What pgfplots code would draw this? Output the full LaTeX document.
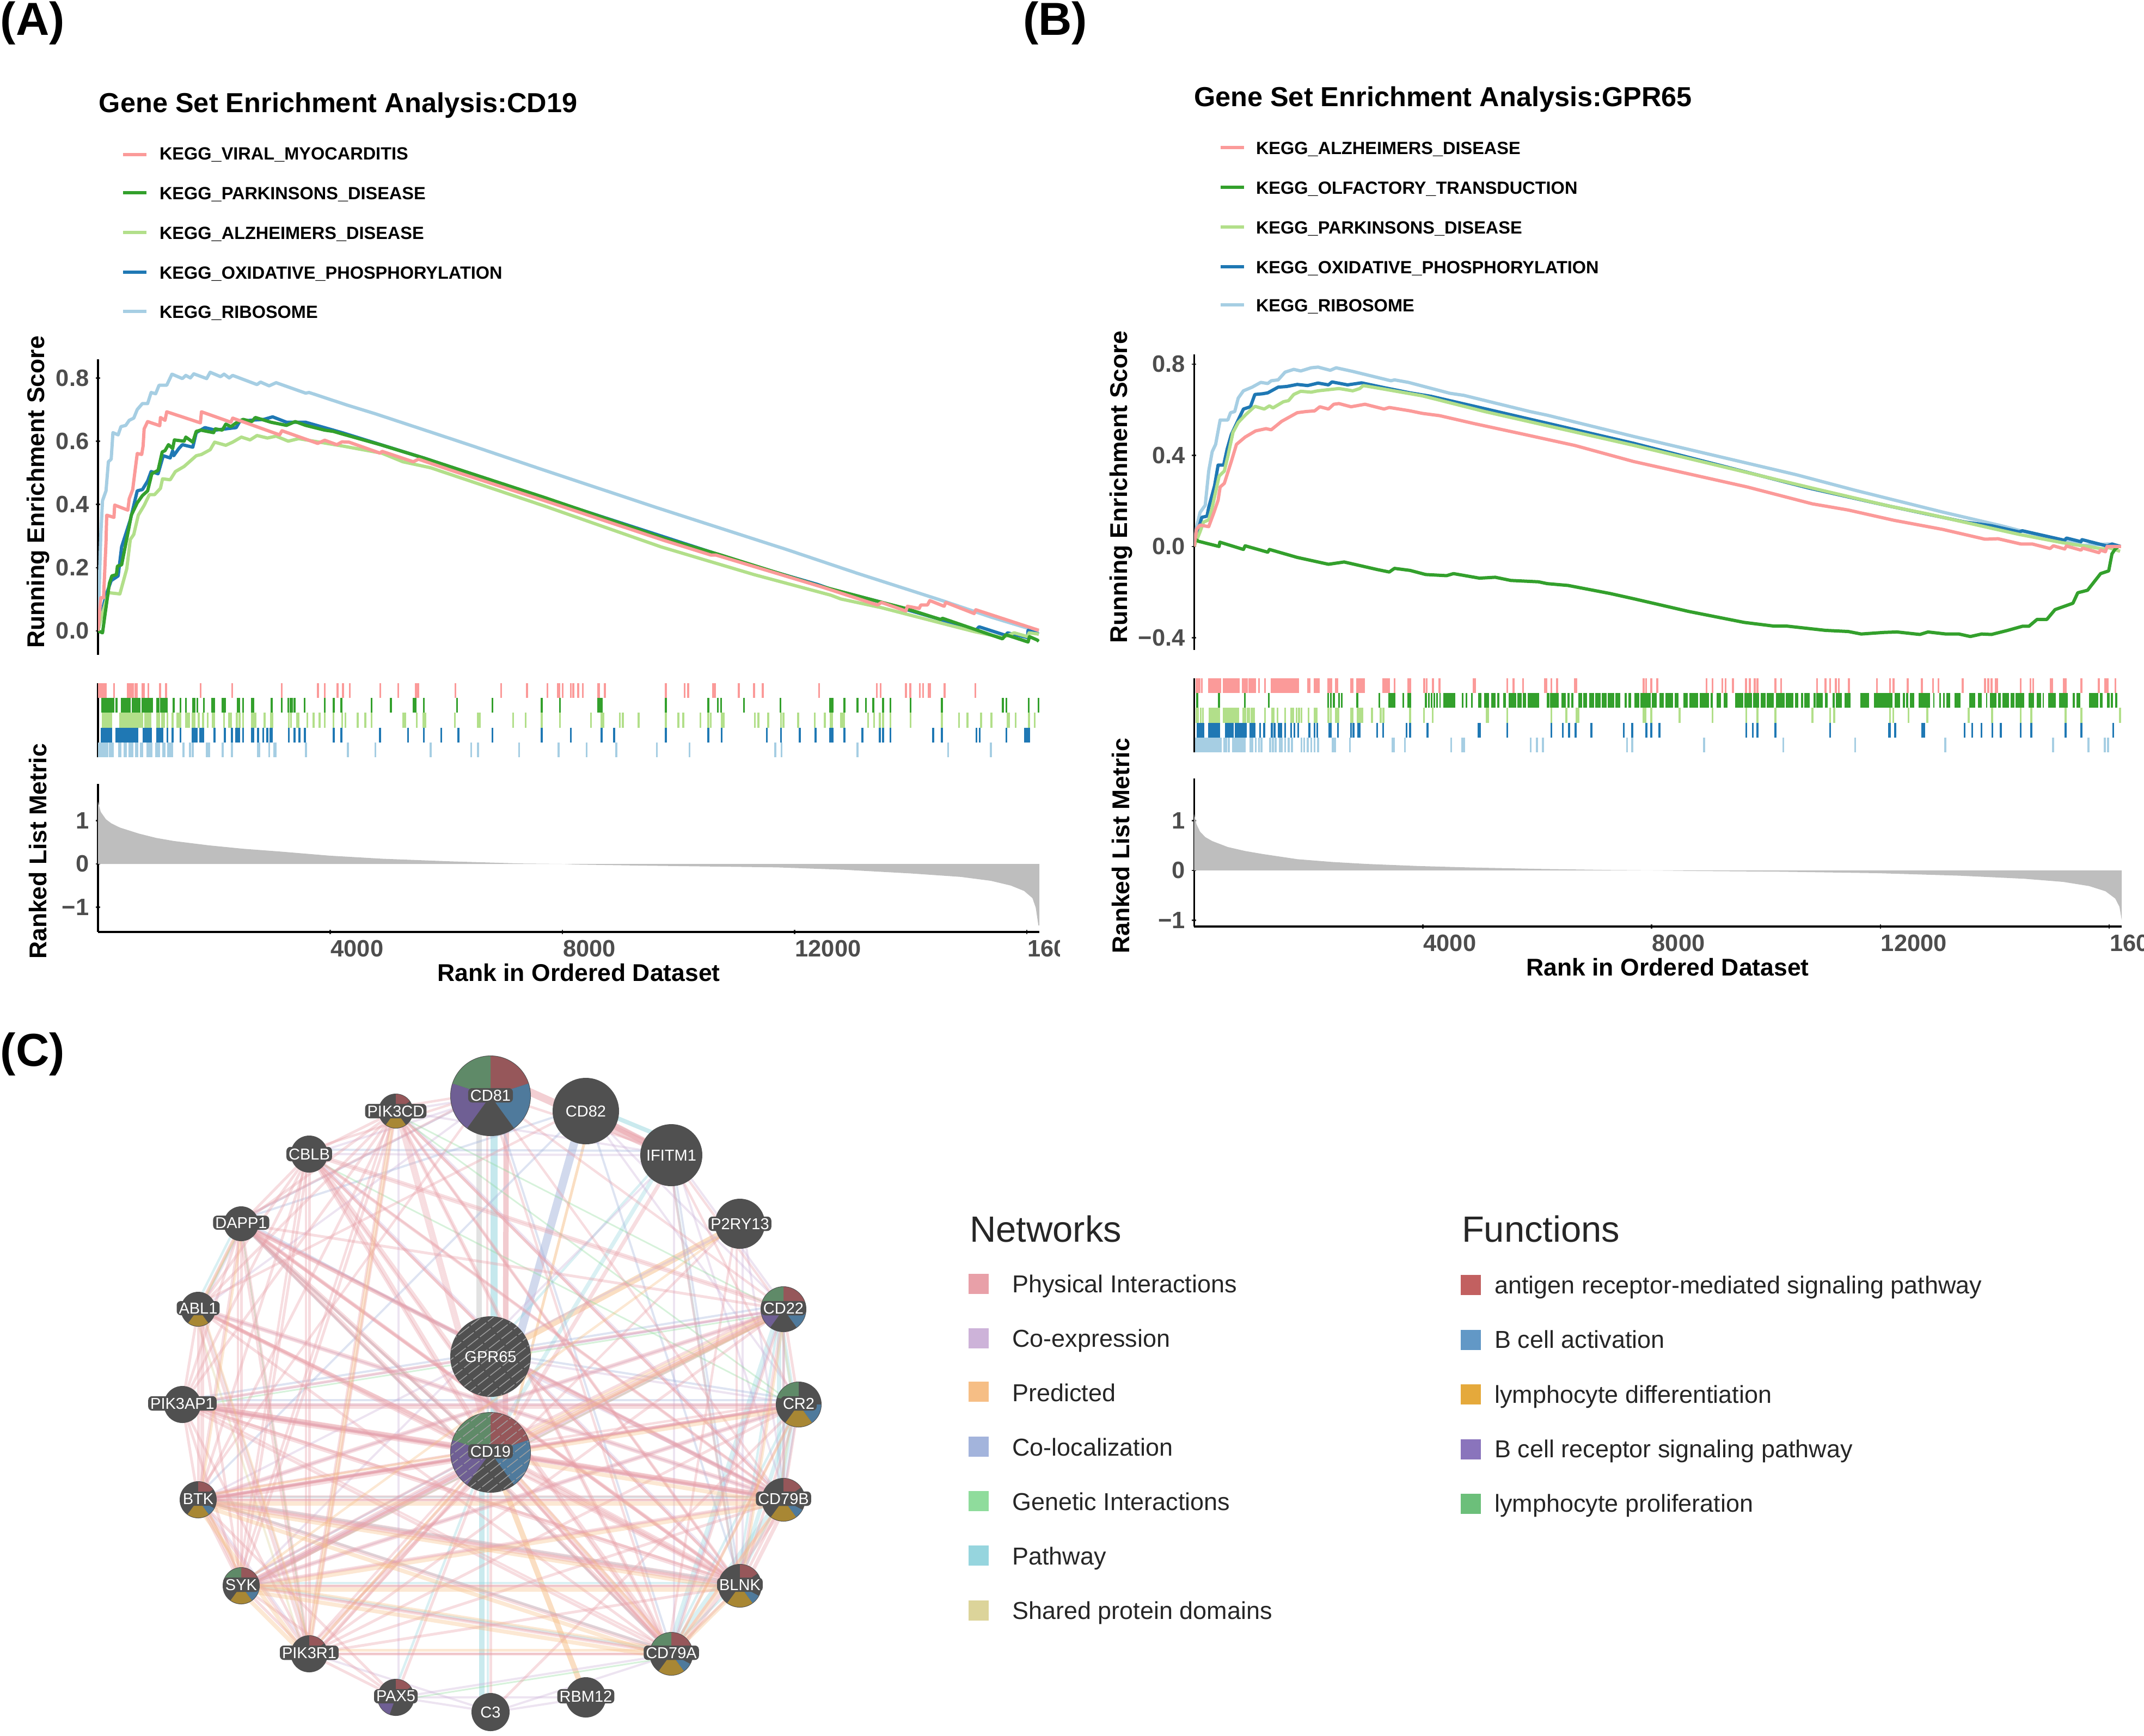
\documentclass[border=0pt]{standalone}
\usepackage{fontspec}
\setmainfont{Liberation Sans}
\usepackage{pgfplots}
\pgfplotsset{compat=1.18}

\definecolor{cpink}{HTML}{FB9A99}
\definecolor{cdgreen}{HTML}{33A02C}
\definecolor{clgreen}{HTML}{B2DF8A}
\definecolor{cblue}{HTML}{1F78B4}
\definecolor{clblue}{HTML}{A6CEE3}
\definecolor{ctick}{HTML}{4D4D4D}
\definecolor{cmetric}{HTML}{BEBEBE}
\definecolor{cnode}{HTML}{505050}
\definecolor{fred}{HTML}{96575A}
\definecolor{fblue}{HTML}{4F7A9C}
\definecolor{fgold}{HTML}{A88734}
\definecolor{fpurple}{HTML}{6F5F94}
\definecolor{fgreen}{HTML}{5F8A68}
\definecolor{nphys}{HTML}{E8A0A8}
\definecolor{ncoexp}{HTML}{CDB3D9}
\definecolor{npred}{HTML}{F6BE85}
\definecolor{ncoloc}{HTML}{A3B4DC}
\definecolor{ngenet}{HTML}{8FDC9C}
\definecolor{npath}{HTML}{96D5DE}
\definecolor{nshare}{HTML}{DCD49A}
\definecolor{lfred}{HTML}{C26060}
\definecolor{lfblue}{HTML}{6298C6}
\definecolor{lfgold}{HTML}{E5A93B}
\definecolor{lfpurple}{HTML}{8A74BC}
\definecolor{lfgreen}{HTML}{6CBF7A}

\newcommand\tickfont{\fontsize{8.7}{10}\selectfont\bfseries}
\newcommand\labfont{\fontsize{8.9}{11}\selectfont\bfseries}

\pgfplotsset{
  gsea/.style={scale only axis, axis line style={line width=0.65pt},
    every non boxed x axis/.append style={x axis line style=-},
    every non boxed y axis/.append style={y axis line style=-},
    tick style={color=black!80,line width=0.5pt},
    tick align=outside, major tick length=1.6pt,
    scaled ticks=false,
    tick label style={font=\tickfont,text=ctick},
    y tick label style={xshift=1pt}},
  rankx/.style={xtick={4000,8000,12000,16000},xticklabels={4000,8000,12000,16000},
    x tick label style={anchor=north west,inner xsep=0pt,yshift=1.4pt}},
  esline/.style={no marks,line width=1.2pt,line join=round},
  rugmark/.style={only marks,mark=|,mark size=2.72pt,mark options={line width=0.7pt}},
  pagepx/.style={scale only axis,at={(0pt,0pt)},anchor=south west,width=787.6pt,height=637.6pt,
    xmin=0,xmax=3938,ymin=0,ymax=3188,y dir=reverse,hide axis,clip=false},
}

% rug of single ticks: style, row, ranks
\newcommand\rug[3]{\def\rc{}%
  \pgfplotsforeachungrouped\r in {#3}{\edef\rc{\rc(\r,#2)}}%
  \edef\tmp{\noexpand\addplot[rugmark,#1] coordinates {\rc};}\tmp}
% rug of solid stretches: colour, row, from:to ranks
\def\blkadd#1:#2\relax{\edef\rc{\rc(#1,\rowy)(#2,\rowy)(#2,nan)}}
\newcommand\rugblock[3]{\def\rc{}\def\rowy{#2}%
  \pgfplotsforeachungrouped\r in {#3}{\expandafter\blkadd\r\relax}%
  \edef\tmp{\noexpand\addplot[color=#1,no marks,line width=5.44pt,unbounded coords=jump] coordinates {\rc};}\tmp}

% network nodes, in picture pixels
\newcommand\N[3]{\expandafter\def\csname nd#1\endcsname{(#2,#3)}}
\N{a}{901}{2492}\N{b}{901}{2668}\N{c}{901}{2013}\N{d}{1076}{2041}
\N{e}{1233}{2122}\N{f}{1359}{2248}\N{g}{1439}{2405}\N{h}{1467}{2580}
\N{i}{1439}{2755}\N{j}{1359}{2913}\N{k}{1233}{3038}\N{l}{1076}{3118}
\N{m}{901}{3145}\N{n}{727}{3118}\N{o}{568}{3038}\N{p}{443}{2913}
\N{q}{364}{2755}\N{r}{335}{2580}\N{s}{364}{2405}\N{t}{443}{2248}
\N{u}{568}{2120}\N{v}{727}{2041}
\def\edgepair#1#2\relax#3#4#5{\edef\tmp{\noexpand\addplot[no marks,color=#3,opacity=0.36,line width=#4,#5] coordinates {\csname nd#1\endcsname\csname nd#2\endcsname};}\tmp}
\newcommand\edges[4][]{\pgfplotsforeachungrouped\e in {#4}{\expandafter\edgepair\e\relax{#2}{#3}{#1}}}

% pie pieces as plot marks, angles in pgf convention
\newcommand\declwedge[3]{\pgfdeclareplotmark{#1}{%
  \pgfpathmoveto{\pgfpointorigin}\pgfpathlineto{\pgfpointpolar{#2}{\pgfplotmarksize}}%
  \pgfpatharc{#2}{#3}{\pgfplotmarksize}\pgfpathclose\pgfusepathqfill}}
\declwedge{wred}{90}{18}\declwedge{wblue}{18}{-54}\declwedge{wgold}{-54}{-126}
\declwedge{wpurple}{-126}{-198}\declwedge{wgreen}{162}{90}
\declwedge{wreds}{90}{35}\declwedge{wbluem}{0}{-54}\declwedge{wblues}{-28}{-54}
\declwedge{wpurples}{-110}{-170}
\pgfdeclareplotmark{hatch}{%
  \begin{pgfscope}%
  \pgfpathcircle{\pgfpointorigin}{\pgfplotmarksize}\pgfusepathqclip
  \pgftransformrotate{38}\pgfsetlinewidth{0.3pt}\pgfsetstrokecolor{black!38}%
  \pgfsetdash{{5pt}{0.8pt}}{0pt}%
  \foreach \k in {-5,...,5}{\pgfpathmoveto{\pgfpoint{-16pt}{\k*2.7pt}}%
    \pgfpathlineto{\pgfpoint{16pt}{\k*2.7pt}}\pgfusepathqstroke}%
  \end{pgfscope}}
\newcommand\pie[4]{\addplot[only marks,mark=#1,mark size=#2pt,color=#3,mark options={fill=#3,draw=none}] coordinates {#4};}
\newcommand\netlab[3]{\node[font=\fontsize{5.8}{7}\selectfont,text=white,fill=cnode,rounded corners=1.5pt,inner xsep=0.8pt,inner ysep=0.6pt] at (axis cs:#1,#2) {#3};}
\newcommand\netlabp[3]{\node[font=\fontsize{5.8}{7}\selectfont,text=white] at (axis cs:#1,#2) {#3};}

\begin{document}
\begin{tikzpicture}
\useasboundingbox (0pt,0pt) rectangle (787.6pt,637.6pt);

\begin{scope}
\clip (0pt,0pt) rectangle (389.2pt,637.6pt);
% ---------- A running score
\begin{axis}[gsea,at={(36pt,397pt)},anchor=south west,width=345.8pt,height=108.6pt,
  axis x line=none,axis y line=left,xmin=0,xmax=16215,ymin=-0.0757,ymax=0.859,
  ytick={0,0.2,0.4,0.6,0.8},yticklabels={0.0,0.2,0.4,0.6,0.8}]
\addplot[esline,clblue] coordinates {(0,0)(48,.305)(78,.412)(138,.443)(179,.535)(227,.543)(257,.627)(347,.620)(395,.646)(478,.650)(538,.666)(616,.673)(676,.700)(765,.719)(855,.719)(915,.754)(993,.750)(1052,.777)(1184,.777)(1274,.812)(1453,.798)(1513,.808)(1591,.800)(1650,.813)(1872,.798)(1932,.818)(2111,.804)(2171,.812)(2260,.800)(2320,.808)(2739,.779)(2799,.787)(2948,.775)(3068,.785)(3576,.752)(3636,.754)(4294,.714)(4772,.687)(5729,.629)(6387,.589)(7690,.508)(9639,.389)(11648,.270)(11820,.260)(13083,.182)(14575,.094)(15379,.044)(16205,-.002)};
\addplot[esline,cblue] coordinates {(0,0)(48,.044)(138,.113)(227,.159)(347,.174)(407,.266)(556,.351)(676,.443)(765,.447)(855,.474)(915,.504)(1035,.497)(1124,.554)(1244,.547)(1286,.570)(1304,.554)(1393,.577)(1453,.589)(1633,.581)(1692,.627)(1842,.643)(2021,.635)(2201,.639)(2380,.643)(2440,.662)(2619,.666)(2858,.669)(3008,.677)(3247,.660)(3576,.660)(4204,.627)(5609,.547)(7690,.420)(11303,.205)(12394,.147)(12624,.132)(13427,.094)(14518,.036)(15120,.002)(15178,.013)(15637,-.014)(15666,-.006)(16011,-.021)(16021,.002)(16205,-.010)};
\addplot[esline,clgreen] coordinates {(0,0)(48,.036)(179,.121)(377,.117)(496,.197)(556,.289)(616,.305)(694,.366)(795,.397)(885,.431)(975,.431)(1076,.451)(1112,.481)(1244,.478)(1333,.504)(1483,.520)(1692,.554)(1782,.558)(1932,.573)(2009,.597)(2201,.587)(2320,.597)(2470,.613)(2619,.604)(2739,.618)(2918,.610)(3068,.616)(3277,.600)(3456,.608)(3815,.597)(4204,.585)(4892,.562)(5250,.535)(5729,.516)(7690,.395)(9696,.266)(11303,.178)(12624,.113)(12796,.101)(13485,.074)(14518,.025)(15092,-.002)(15580,-.021)(15781,-.006)(16011,-.018)(16039,-.006)(16205,-.010)};
\addplot[esline,cdgreen] coordinates {(0,0)(78,-.006)(120,.051)(197,.151)(239,.174)(317,.178)(335,.205)(407,.209)(526,.320)(574,.366)(676,.405)(765,.428)(855,.443)(927,.497)(1035,.508)(1106,.566)(1154,.570)(1214,.589)(1286,.577)(1316,.604)(1483,.600)(1513,.613)(1633,.597)(1692,.631)(1770,.635)(1991,.627)(2021,.639)(2141,.635)(2201,.654)(2290,.646)(2380,.658)(2500,.669)(2649,.662)(2709,.675)(2978,.660)(3247,.650)(3397,.662)(3576,.650)(3905,.635)(4054,.631)(4204,.623)(4862,.589)(5609,.547)(7690,.422)(9753,.293)(10729,.240)(12394,.144)(13427,.094)(13915,.071)(14518,.036)(14546,.040)(15580,-.025)(15637,-.012)(16021,-.035)(16045,-.018)(16182,-.029)(16205,-.033)};
\addplot[esline,cpink] coordinates {(0,0)(48,.105)(96,.105)(138,.282)(150,.366)(275,.359)(287,.398)(514,.382)(538,.418)(598,.447)(616,.474)(658,.535)(676,.561)(753,.558)(777,.585)(795,.639)(855,.662)(1064,.649)(1076,.675)(1154,.666)(1184,.693)(1764,.658)(1782,.693)(2290,.660)(2320,.673)(3128,.620)(3169,.633)(3785,.593)(3905,.603)(4114,.589)(4204,.598)(4324,.597)(4862,.562)(4892,.568)(5430,.535)(5520,.543)(6147,.504)(7690,.412)(9753,.286)(10557,.240)(10643,.240)(12451,.140)(13427,.082)(13496,.090)(13915,.063)(13944,.078)(14145,.071)(14173,.082)(14288,.082)(14328,.096)(14575,.078)(14604,.090)(15092,.055)(15120,.067)(16205,.002)};
\end{axis}
% ---------- A rug
\begin{axis}[gsea,at={(36pt,359.4pt)},anchor=south west,width=345.8pt,height=27.2pt,
  axis x line=none,axis y line=left,xmin=0,xmax=16215,ymin=0,ymax=5,ytick=\empty]
\rug{color=cpink}{4.5}{18,36,60,84,108,132,275,514,538,574,598,646,670,765,789,867,1070,1172,1770,2314,3163,3791,3905,4126,4222,4336,4862,5173,5472,5496,5514,6159,6943,7391,7744,7922,7945,8003,8146,8186,8272,8353,8617,8634,8732,9782,10104,10167,10597,10626,11039,11303,11452,12423,13416,13479,13915,13990,14156,14214,14305,14328,14581,15115}
\rug{color=cdgreen}{3.5}{72,96,120,144,167,191,215,239,269,317,407,431,454,478,502,526,550,598,622,646,670,694,718,765,789,825,849,873,897,927,1017,1041,1088,1112,1136,1160,1184,1304,1423,1513,1639,1662,1710,1824,1967,1997,2147,2183,2404,2428,2500,2649,2679,2990,3163,3277,3313,3343,3385,3558,3905,4060,4192,4712,5047,5436,5466,5615,6183,6793,7642,7957,8617,8646,8674,9782,10511,10678,10735,11125,11757,12612,12635,12658,12859,13083,13226,13353,13525,13651,13995,14535,15585,15648,16033,16199}
\rug{color=clgreen}{2.5}{84,108,132,167,203,227,383,413,443,472,502,532,562,592,622,652,682,712,742,765,813,843,873,903,1017,1052,1100,1136,1196,1286,1363,1387,1423,1513,1543,1573,1633,1662,1734,1812,1890,1973,1997,2171,2260,2290,2392,2440,2500,2649,2679,2709,2870,2978,3008,3289,3325,3427,3456,3606,3714,3815,3905,4054,4204,4264,4473,4605,4712,5262,5292,5490,5609,5639,6147,6542,6572,7152,7367,7642,7957,8491,8674,8703,8990,9042,9311,9782,9995,10081,10379,10511,10557,10741,10775,11315,11378,11544,11763,11808,12061,12348,12520,12623,12646,12796,12824,12853,13266,13369,13467,13525,13651,13995,14535,14833,14977,15212,15390,15666,15694,15809,16039,16136}
\rug{color=cblue}{1.5}{60,84,108,132,155,179,203,227,317,341,365,389,413,437,460,484,508,532,556,580,604,628,652,676,789,813,837,861,885,909,1017,1041,1064,1088,1112,1196,1286,1423,1633,1656,1680,1704,1764,1788,1812,2009,2183,2308,2380,2404,2428,2500,2649,2679,2757,2846,2918,2966,2996,3289,3385,3468,3564,4060,4192,4856,5340,5615,5914,6207,6793,7642,8146,8674,8892,9782,10511,10741,11521,11763,12090,12359,12612,12635,12658,12859,13169,13467,13525,13651,14386,14535,15132,15189,15648,15970,15993,16016,16039}
\rug{color=clblue}{0.5}{12,36,60,84,114,138,161,203,227,251,365,389,454,478,538,562,592,652,676,742,765,849,873,897,921,1005,1029,1052,1124,1148,1208,1232,1256,1280,1471,1585,1633,1872,1896,1920,2147,2308,2757,2781,2948,3038,3062,3582,4306,4778,5729,6428,6548,7254,7934,8416,8927,9627,10190,11665,11774,13083,14644,15379}
\end{axis}
% ---------- A ranked metric
\begin{axis}[gsea,rankx,at={(36pt,295.2pt)},anchor=south west,width=345.8pt,height=54.4pt,
  axis lines=left,xmin=0,xmax=16215,ymin=-1.572,ymax=1.849,
  ytick={-1,0,1},yticklabels={−1,0,1}]
\addplot[draw=none,fill=cmetric] coordinates {(0,0)(0,1.44)(48,1.20)(138,1.03)(227,.94)(377,.84)(706,.70)(1005,.60)(1304,.53)(1902,.43)(2500,.35)(3098,.29)(3995,.19)(4892,.12)(6088,.058)(7284,.01)(7990,0)(8261,-.015)(9409,-.04)(10557,-.06)(11705,-.08)(12853,-.135)(14001,-.22)(14862,-.30)(15379,-.39)(15723,-.50)(15953,-.625)(16096,-.79)(16153,-1.01)(16199,-1.42)(16215,-1.42)(16215,0)} -- cycle;
\end{axis}
\end{scope}

% ---------- B running score
\begin{axis}[gsea,at={(438.66pt,398.8pt)},anchor=south west,width=340.74pt,height=108.7pt,
  axis x line=none,axis y line=left,xmin=0,xmax=16218,ymin=-.454,ymax=.844,
  ytick={-0.4,0,0.4,0.8},yticklabels={−0.4,0.0,0.4,0.8}]
\addplot[esline,clblue] coordinates {(0,0)(43,.085)(103,.149)(194,.181)(255,.331)(316,.416)(376,.448)(455,.555)(589,.555)(637,.587)(710,.592)(771,.651)(862,.683)(1014,.699)(1166,.720)(1287,.715)(1348,.727)(1469,.731)(1591,.765)(1742,.777)(1864,.770)(2046,.784)(2167,.787)(2380,.773)(2483,.784)(2774,.768)(3442,.727)(3503,.731)(3746,.720)(4474,.672)(4717,.663)(5871,.592)(6174,.576)(7680,.483)(10526,.315)(11550,.247)(13087,.151)(14112,.091)(14453,.069)(15535,.005)(15991,.011)(16190,0)};
\addplot[esline,cblue] coordinates {(0,0)(73,.075)(134,.128)(225,.133)(255,.171)(358,.267)(419,.357)(516,.357)(577,.427)(650,.491)(771,.555)(862,.603)(984,.613)(1062,.667)(1196,.670)(1287,.674)(1469,.699)(1621,.702)(1803,.711)(1985,.706)(2167,.717)(2349,.709)(2410,.722)(2683,.709)(2926,.718)(3321,.697)(3776,.674)(4140,.659)(5021,.608)(7680,.453)(10753,.256)(12176,.176)(12689,.149)(13486,.107)(13941,.091)(14425,.064)(14482,.069)(15222,.027)(15251,.037)(15507,.021)(15524,.030)(15962,.002)(16048,.011)(16201,0)};
\addplot[esline,clgreen] coordinates {(0,0)(103,.064)(164,.107)(255,.117)(316,.171)(437,.309)(528,.331)(589,.395)(680,.501)(771,.544)(892,.576)(1062,.615)(1226,.603)(1317,.617)(1378,.608)(1560,.635)(1651,.640)(1742,.667)(1864,.681)(2046,.677)(2167,.683)(2349,.688)(2532,.693)(2774,.683)(2896,.693)(2957,.706)(3260,.693)(3989,.661)(5081,.592)(7680,.444)(10810,.256)(12176,.176)(12803,.144)(13941,.080)(14425,.053)(15194,.016)(15906,-.011)(15991,-.005)(16190,-.021)};
\addplot[esline,cdgreen] coordinates {(30,.03)(73,.023)(437,0)(449,.019)(862,-.013)(892,.003)(1287,-.025)(1317,-.013)(1803,-.048)(2349,-.078)(2623,-.068)(3199,-.101)(3412,-.112)(3503,-.096)(3776,-.105)(4049,-.123)(4414,-.128)(4535,-.119)(4990,-.139)(5264,-.135)(5537,-.149)(6022,-.155)(6174,-.163)(6539,-.171)(7267,-.206)(7680,-.229)(8647,-.285)(9615,-.333)(10127,-.349)(10355,-.349)(11038,-.368)(11437,-.373)(11664,-.384)(12063,-.377)(12290,-.375)(12689,-.386)(12831,-.375)(13144,-.384)(13372,-.384)(13571,-.395)(13770,-.384)(13941,-.386)(14226,-.368)(14482,-.350)(14596,-.350)(14738,-.320)(14909,-.320)(15052,-.277)(15365,-.249)(15450,-.203)(15621,-.192)(15849,-.119)(15991,-.107)(16048,-.032)(16105,-.011)(16161,0)};
\addplot[esline,cpink] coordinates {(0,0)(43,.075)(103,.094)(255,.087)(346,.149)(419,.203)(455,.261)(528,.277)(650,.373)(740,.448)(892,.480)(1075,.507)(1257,.517)(1348,.512)(1530,.549)(1803,.587)(1955,.592)(2107,.595)(2198,.613)(2349,.603)(2441,.624)(2532,.627)(2744,.613)(2987,.624)(3321,.603)(3412,.610)(3776,.595)(3989,.584)(4292,.574)(4899,.539)(5749,.493)(6660,.443)(7680,.373)(9672,.261)(10810,.187)(11436,.160)(12233,.115)(13087,.075)(13827,.032)(14055,.034)(14453,.011)(14653,.011)(14966,-.009)(15023,.003)(15222,-.011)(15251,.002)(15507,-.016)(15535,-.007)(15820,-.027)(15848,-.016)(15934,-.023)(15962,0)(16207,0)};
\end{axis}
% ---------- B rug
\begin{axis}[gsea,at={(438.66pt,361.2pt)},anchor=south west,width=340.74pt,height=27.2pt,
  axis x line=none,axis y line=left,xmin=0,xmax=16218,ymin=0,ymax=5,ytick=\empty]
\rug{color=cpink}{4.5}{42,67,91,134,261,285,310,334,358,383,407,431,455,516,540,565,589,613,637,662,686,710,734,759,783,850,874,899,923,965,990,1014,1038,1062,1135,1238,1360,1384,1408,1433,1457,1481,1506,1530,1554,1578,1603,1627,1651,1676,1700,1724,1748,1773,1797,1821,1997,2022,2107,2131,2155,2179,2349,2374,2398,2483,2507,2744,2774,2847,2872,2908,2938,2969,3309,3333,3357,3381,3406,3503,3746,3776,4025,4068,4177,4292,4887,4911,5476,5585,5749,6138,6162,6247,6344,6660,6684,7861,7901,7992,8100,8960,9062,9233,9290,9421,9649,9717,9802,9848,10161,10264,10890,11038,11118,11220,11271,11448,11937,12165,12228,12478,12723,12917,13013,13440,13827,13884,13941,14015,14044,14454,14624,14670,14977,15000,15205,15239,15513,15820,15934,15968,16110}
\rug{color=cdgreen}{3.5}{55,437,886,1305,2343,2392,2441,2532,2580,2853,3236,3412,3442,3473,3503,3655,3746,3776}
\rugblock{cdgreen}{3.5}{4037:4069,4088:4116,4140:4163,4187:4211,4234:4266,4286:4313,4353:4562,4681:4712,4748:4772,4839:4866,4969:5024,5068:5155,5194:5273,5301:5333,5404:5451,5502:5629,5649:5728,5747:5807,5834:6032,6170:6209,6225:6375,6419:6498,6525:6565,6597:6628,6715:6786,6802:6873,6905:6992,7011:7110,7130:7209,7229:7347,7367:7446,7525:7564,7592:7643,7695:7782,7801:7979,7999:8090,8137:8216,8236:8374,8406:8473,8552:8631,8658:8809,8840:9006,9030:9065,9132:9211,9263:9322,9460:9599,9622:9757,9776:9875,9907:9994,10013:10065,10059:10138,10170:10328,10343:10474,10505:10565,10612:10652,10671:10762,10829:10869,10881:10987,11027:11078,11165:11205,11224:11323,11374:11473,11647:11797,11884:12212,12251:12342,12390:12429,12449:12488,12516:12587,12666:12864,12923:12943,13029:13061,13093:13120,13148:13219,13298:13397,13555:13661,13701:13772,13843:13871,13910:14029,14056:14108,14135:14246,14278:14345,14365:14515,14594:14681,14728:14811,14839:14858,14937:15068,15123:15273,15364:15399,15431:15490,15648:15806,15834:15885,15964:16004,16024:16064,16103:16142}
\rug{color=clgreen}{2.5}{42,67,115,152,862,892,941,965,1002,1026,1050,1238,1366,1390,1457,1591,1694,1730,1791,1833,1876,2003,2107,2137,2349,2392,2483,2519,2744,2774,3108,3260,3309,3776,4019,4171,5112,5142,5476,6247,6508,6690,6721,7861,7890,7992,8487,9062,9654,9848,10161,10810,11118,11192,12165,12222,12490,12820,13543,13953,14454,14636,15239,15513,16190}
\rugblock{clgreen}{2.5}{255:455,498:789,2847:2957}
\rug{color=cblue}{1.5}{1153,1226,1360,1408,1481,1518,1591,1694,1755,1821,2016,2107,2155,2513,2744,2787,2866,2896,3199,3303,3716,3776,4080,5476,6247,6447,6557,6672,6945,7510,7662,7907,7992,8134,9654,9768,9848,10161,11118,12256,12729,12763,13469,13606,13765,13958,14106,14454,14636,15239,15513,16071}
\rugblock{cblue}{1.5}{42:176,243:455,540:690,710:923,965:1075,2349:2410,4960:5009,12137:12177}
\rug{color=clblue}{0.5}{528,565,607,983,1014,1075,1135,1178,1330,1378,1427,1500,1536,1591,1651,1712,1876,1925,1985,2046,2107,2167,2726,3685,4493,4687,4717,5883,5992,6101,7570,7662,8914,10303,11556,13133,15017,15638,15922,15980}
\rugblock{clblue}{0.5}{12:480,662:905,2410:2483,3454:3509}
\end{axis}
% ---------- B ranked metric
\begin{axis}[gsea,rankx,at={(438.66pt,297.2pt)},anchor=south west,width=340.74pt,height=54.4pt,
  axis lines=left,xmin=0,xmax=16218,ymin=-1.126,ymax=1.847,
  ytick={-1,0,1},yticklabels={−1,0,1}]
\addplot[draw=none,fill=cmetric] coordinates {(0,0)(0,1.13)(42,.925)(103,.78)(194,.67)(316,.59)(589,.47)(892,.39)(1196,.33)(1803,.226)(2410,.17)(3017,.13)(3928,.088)(4839,.059)(6053,.03)(7267,.008)(7680,.004)(8000,0)(8647,-.01)(10241,-.025)(11949,-.055)(13372,-.105)(14511,-.167)(15194,-.23)(15649,-.314)(15934,-.418)(16105,-.565)(16179,-.73)(16218,-.995)(16218,0)} -- cycle;
\end{axis}

% ---------- legend keys and network, in picture pixels
\begin{axis}[pagepx]
\addplot[no marks,cpink,line width=1.2pt] coordinates {(226,284)(269,284)};
\addplot[no marks,cdgreen,line width=1.2pt] coordinates {(226,354)(269,354)};
\addplot[no marks,clgreen,line width=1.2pt] coordinates {(226,427)(269,427)};
\addplot[no marks,cblue,line width=1.2pt] coordinates {(226,500)(269,500)};
\addplot[no marks,clblue,line width=1.2pt] coordinates {(226,572)(269,572)};
\addplot[no marks,cpink,line width=1.2pt] coordinates {(2242,271)(2285,271)};
\addplot[no marks,cdgreen,line width=1.2pt] coordinates {(2242,344)(2285,344)};
\addplot[no marks,clgreen,line width=1.2pt] coordinates {(2242,417)(2285,417)};
\addplot[no marks,cblue,line width=1.2pt] coordinates {(2242,490)(2285,490)};
\addplot[no marks,clblue,line width=1.2pt] coordinates {(2242,560)(2285,560)};
% thick network edges
\addplot[no marks,color=npath,opacity=.55,line width=2.6pt] coordinates {(907,2013)(907,2668)};
\addplot[no marks,color=nphys,opacity=.55,line width=2pt] coordinates {(930,2013)(928,2668)};
\addplot[no marks,color=black!25,opacity=.45,line width=2pt] coordinates {(880,2013)(880,2500)};
\addplot[no marks,color=ncoloc,opacity=.5,line width=3pt] coordinates {(1056,2095)(950,2470)};
\addplot[no marks,color=npred,opacity=.5,line width=1pt] coordinates {(1073,2100)(945,2600)};
\addplot[no marks,color=npred,opacity=.5,line width=2.4pt] coordinates {(1359,2248)(901,2492)};
\addplot[no marks,color=nphys,opacity=.5,line width=2.8pt] coordinates {(960,2000)(1233,2122)};
\addplot[no marks,color=npath,opacity=.5,line width=1.6pt] coordinates {(1100,2040)(1233,2095)};
\addplot[no marks,color=nphys,opacity=.5,line width=2.4pt] coordinates {(1076,2041)(1233,2122)};
\addplot[no marks,color=npred,opacity=.5,line width=2pt] coordinates {(1076,3118)(901,2668)};
\addplot[no marks,color=npath,opacity=.5,line width=2pt] coordinates {(885,2668)(885,3145)};
\edges[xshift=-1.6pt]{npath}{1.5pt}{eb,gh,hi,gi,gk,hj,ik}
\edges[xshift=-1pt,yshift=1pt]{npath}{0.9pt}{ea,ej,gj,hk,ij,jk,qj,qk,qi,pk,pj,nb,mb,tb,tk,st,ba}
\edges[xshift=1pt]{ncoexp}{0.8pt}{ve,ue,eg,ei,cv,cu,rg,rh,ah,ag,ai,fi,fj,ep,fq,nm,nk,nl,mk,ml,bq,br,bp,pg,qg,ph,ts,so,oq,vn,dh,dg,ek,cs,om,uj,vi,ti,ri,si,qh}
\edges[yshift=1.6pt]{ncoloc}{0.8pt}{at,dj,ej,gi,ar,ag,ah,ct,dt,dq,eu,gk,hi,ck,bp,rh}
\edges[yshift=-1.2pt]{ngenet}{0.6pt}{vg,vh,uh,ts,to,rg,gp,nk}
\edges[xshift=-1.8pt]{nshare}{0.8pt}{gh,so,hi}
\edges{nphys}{1pt}{bg,bh,bi,bj,bk,bn,bo,bp,bq,br,bs,bt,bu,bv,bm,gh,gi,gj,gk,go,gp,gq,gr,gt,gu,hi,hj,hk,ho,hp,hq,hr,hm,ij,ik,io,ip,iq,ir,is,it,iu,iv,jk,jo,jp,jq,jr,js,jt,ju,jv,ko,kp,kq,kr,ks,kt,ku,kv,no,np,nq,op,oq,or,os,ot,ou,ov,pq,pr,ps,pt,pu,pv,qr,qs,qt,qu,qv,rs,rt,ru,rv,st,su,sv,tu,tv,uv}
\edges[xshift=1.5pt,yshift=-.8pt]{nphys}{1.4pt}{eb,tj,ub,vb,qj,sb,ti,rb,qb,pb,ob,kb,ji,ki,tk,uk,rh,tb,sq,qp}
\edges[xshift=-1.2pt,yshift=1.2pt]{nphys}{0.9pt}{cv,ct,cu,ca,ck,ci,ej,eg,eh,fk,fj,fo,cg,cq,ds,vk,ug,ec,ed,bg,bh,bi,bj,bk,bo,bp,bq,br,vj,vi,uj,ui,tj,ti,sj,si,rj,ri,qj,qi,vo,vp,up,uo,to,tp}
\edges[xshift=2.4pt]{nphys}{0.8pt}{bg,bh,bi,bj,bk,bo,bp,bq,gq,gp,hq,hp,ir,iq,ip,jq,jr,jp,kp,kq,kr,ko}
\edges[xshift=-.8pt,yshift=-1.4pt]{npred}{1.5pt}{vo,qj,pk,qk,pj,pi,bg,bh,bi,qi,jk,ik,op,qo}
\edges[xshift=.9pt,yshift=1.3pt]{npred}{0.9pt}{st,so,qp,pk,ok,gb,bk,bq,bo,hk,gj,tq,fp}
% node discs
\pie{*}{14.6}{cnode}{(901,2492)(901,2668)(901,2013)}
\pie{*}{12}{cnode}{(1076,2041)}
\pie{*}{11.2}{cnode}{(1233,2122)}
\pie{*}{9}{cnode}{(1359,2248)}
\pie{*}{8.2}{cnode}{(1439,2405)(1467,2580)}
\pie{*}{7.8}{cnode}{(1439,2755)(1359,2913)(1233,3038)}
\pie{*}{7.2}{cnode}{(1076,3118)}
\pie{*}{6.8}{cnode}{(901,3145)}
\pie{*}{6.6}{cnode}{(727,3118)(568,3038)(443,2913)(364,2755)(335,2580)(568,2120)}
\pie{*}{6.2}{cnode}{(364,2405)(443,2248)(727,2041)}
% function slices
\pie{wred}{14.6}{fred}{(901,2668)(901,2013)}
\pie{wblue}{14.6}{fblue}{(901,2668)(901,2013)}
\pie{wpurple}{14.6}{fpurple}{(901,2668)(901,2013)}
\pie{wgreen}{14.6}{fgreen}{(901,2668)(901,2013)}
\pie{wred}{8.2}{fred}{(1439,2405)}
\pie{wblue}{8.2}{fblue}{(1439,2405)}
\pie{wpurple}{8.2}{fpurple}{(1439,2405)}
\pie{wgreen}{8.2}{fgreen}{(1439,2405)(1467,2580)}
\pie{wbluem}{8.2}{fblue}{(1467,2580)}
\pie{wgold}{8.2}{fgold}{(1467,2580)}
\pie{wreds}{7.8}{fred}{(1439,2755)(1359,2913)}
\pie{wred}{7.8}{fred}{(1233,3038)}
\pie{wblues}{7.8}{fblue}{(1439,2755)(1359,2913)(1233,3038)}
\pie{wgold}{7.8}{fgold}{(1439,2755)(1359,2913)(1233,3038)}
\pie{wgreen}{7.8}{fgreen}{(1233,3038)}
\pie{wred}{6.6}{fred}{(443,2913)}
\pie{wblue}{6.6}{fblue}{(443,2913)}
\pie{wgold}{6.6}{fgold}{(443,2913)(364,2755)}
\pie{wgreen}{6.6}{fgreen}{(443,2913)}
\pie{wreds}{6.6}{fred}{(364,2755)(568,3038)(727,3118)}
\pie{wblues}{6.6}{fblue}{(364,2755)}
\pie{wpurples}{6.6}{fpurple}{(727,3118)}
\pie{wreds}{6.2}{fred}{(727,2041)}
\pie{wgold}{6.2}{fgold}{(727,2041)(364,2405)}
\addplot[only marks,mark=hatch,mark size=14.6pt,color=black!42] coordinates {(901,2492)(901,2668)};
% legend squares of panel C
\pie{square*}{3.5}{nphys}{(1797,2358)}
\pie{square*}{3.5}{ncoexp}{(1797,2458)}
\pie{square*}{3.5}{npred}{(1797,2556)}
\pie{square*}{3.5}{ncoloc}{(1797,2657)}
\pie{square*}{3.5}{ngenet}{(1797,2757)}
\pie{square*}{3.5}{npath}{(1797,2857)}
\pie{square*}{3.5}{nshare}{(1797,2958)}
\pie{square*}{3.5}{lfred}{(2701,2360)}
\pie{square*}{3.5}{lfblue}{(2701,2461)}
\pie{square*}{3.5}{lfgold}{(2701,2561)}
\pie{square*}{3.5}{lfpurple}{(2701,2662)}
\pie{square*}{3.5}{lfgreen}{(2701,2762)}
\end{axis}

% ---------- all free text, above the marks
\begin{axis}[pagepx]
\netlabp{901}{2492}{GPR65}\netlab{901}{2666}{CD19}\netlab{901}{2012}{CD81}
\netlabp{1076}{2041}{CD82}\netlabp{1233}{2122}{IFITM1}\netlab{1359}{2248}{P2RY13}
\netlab{1439}{2403}{CD22}\netlab{1467}{2578}{CR2}\netlab{1439}{2753}{CD79B}
\netlab{1359}{2911}{BLNK}\netlab{1233}{3036}{CD79A}\netlab{1076}{3116}{RBM12}
\netlabp{901}{3145}{C3}\netlab{727}{3116}{PAX5}\netlab{568}{3036}{PIK3R1}
\netlab{443}{2911}{SYK}\netlab{364}{2753}{BTK}\netlab{335}{2578}{PIK3AP1}
\netlab{364}{2403}{ABL1}\netlab{443}{2246}{DAPP1}\netlab{568}{2120}{CBLB}
\netlab{727}{2041}{PIK3CD}
% panel letters and titles
\node[anchor=west,inner sep=0pt,font=\fontsize{17}{20}\selectfont\bfseries] at (axis cs:0,43) {(A)};
\node[anchor=west,inner sep=0pt,font=\fontsize{17}{20}\selectfont\bfseries] at (axis cs:1878,43) {(B)};
\node[anchor=west,inner sep=0pt,font=\fontsize{17}{20}\selectfont\bfseries] at (axis cs:0,1936) {(C)};
\node[anchor=base west,inner sep=0pt,font=\fontsize{10.1}{12}\selectfont\bfseries] at (axis cs:181,206) {Gene Set Enrichment Analysis:CD19};
\node[anchor=base west,inner sep=0pt,font=\fontsize{10.1}{12}\selectfont\bfseries] at (axis cs:2192,195) {Gene Set Enrichment Analysis:GPR65};
% legend A and B text
\begin{scope}[every node/.style={anchor=base west,inner sep=0pt,font=\fontsize{6.5}{8}\selectfont\bfseries}]
\node at (axis cs:292,293) {KEGG\_VIRAL\_MYOCARDITIS};
\node at (axis cs:292,366) {KEGG\_PARKINSONS\_DISEASE};
\node at (axis cs:292,439) {KEGG\_ALZHEIMERS\_DISEASE};
\node at (axis cs:292,512) {KEGG\_OXIDATIVE\_PHOSPHORYLATION};
\node at (axis cs:292,584) {KEGG\_RIBOSOME};
\node at (axis cs:2306,283) {KEGG\_ALZHEIMERS\_DISEASE};
\node at (axis cs:2306,356) {KEGG\_OLFACTORY\_TRANSDUCTION};
\node at (axis cs:2306,429) {KEGG\_PARKINSONS\_DISEASE};
\node at (axis cs:2306,502) {KEGG\_OXIDATIVE\_PHOSPHORYLATION};
\node at (axis cs:2306,572) {KEGG\_RIBOSOME};
\end{scope}
% axis titles
\begin{scope}[every node/.style={inner sep=0pt,font=\labfont}]
\node[rotate=90] at (axis cs:70,904) {Running Enrichment Score};
\node[rotate=90] at (axis cs:70,1564) {Ranked List Metric};
\node at (axis cs:1063,1787) {Rank in Ordered Dataset};
\node[rotate=90] at (axis cs:2059,895) {Running Enrichment Score};
\node[rotate=90] at (axis cs:2059,1554) {Ranked List Metric};
\node at (axis cs:3063,1777) {Rank in Ordered Dataset};
\end{scope}
% legend text of panel C
\begin{scope}[every node/.style={anchor=base west,inner sep=0pt,text=black!85,font=\fontsize{9}{11}\selectfont}]
\node[font=\fontsize{13.4}{16}\selectfont] at (axis cs:1780,2281) {Networks};
\node at (axis cs:1858,2374) {Physical Interactions};
\node at (axis cs:1858,2474) {Co-expression};
\node at (axis cs:1858,2574) {Predicted};
\node at (axis cs:1858,2674) {Co-localization};
\node at (axis cs:1858,2774) {Genetic Interactions};
\node at (axis cs:1858,2874) {Pathway};
\node at (axis cs:1858,2974) {Shared protein domains};
\node[font=\fontsize{13.4}{16}\selectfont] at (axis cs:2684,2281) {Functions};
\node at (axis cs:2744,2376) {antigen receptor-mediated signaling pathway};
\node at (axis cs:2744,2476) {B cell activation};
\node at (axis cs:2744,2577) {lymphocyte differentiation};
\node at (axis cs:2744,2677) {B cell receptor signaling pathway};
\node at (axis cs:2744,2777) {lymphocyte proliferation};
\end{scope}
\end{axis}
\end{tikzpicture}
\end{document}
